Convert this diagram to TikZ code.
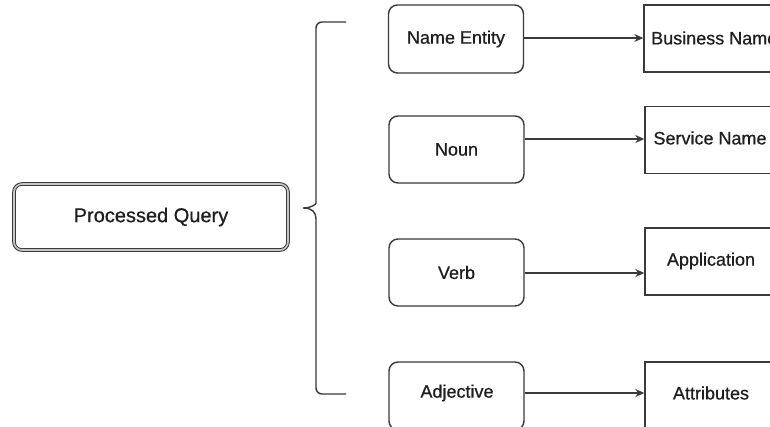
\documentclass[tikz,border=0pt]{standalone}
\usepackage{fontspec}
\setmainfont{Liberation Sans}[FakeBold=0.6]
\usetikzlibrary{arrows.meta}
\definecolor{linec}{HTML}{3A3A3A}
\definecolor{textc}{HTML}{1E1E1E}
\tikzset{
  rbox/.style={draw=linec, line width=1.4pt, rounded corners=9pt, minimum width=135pt, minimum height=68pt, inner sep=0pt, text=textc, font=\fontsize{18}{21}\selectfont\addfontfeature{FakeBold=0.6}},
  sbox/.style={draw=linec, line width=1.4pt, minimum width=160pt, minimum height=67pt, inner sep=0pt},
  lbl/.style={text=textc, font=\fontsize{18}{21}\selectfont\addfontfeature{FakeBold=0.6}, inner sep=0pt},
  pqbox/.style={draw=linec, line width=1pt, double=gray!45, double distance=1.6pt, rounded corners=8pt, minimum width=274pt, minimum height=66pt, inner sep=0pt, text=textc, font=\fontsize{20}{24}\selectfont\addfontfeature{FakeBold=0.6}},
  conn/.style={draw=linec, line width=1.4pt, -{Stealth[length=9pt,width=8pt]}},
  bracel/.style={draw=linec, line width=1.4pt}
}
\begin{document}
\begin{tikzpicture}[x=1pt,y=-1pt]
\clip (0,0) rectangle (770,427);
\fill[white] (0,0) rectangle (770,427);
% left node
\node[pqbox] (pq) at (151,217) {Processed Query};
% brace
\coordinate (bt) at (346,22);
\coordinate (bb) at (346,394);
\coordinate (tip) at (303,208);
\draw[bracel] (bt) [rounded corners=6pt] -- (316,22) -- (316,197) [sharp corners] .. controls (316,204) and (312,208) .. (tip)
  .. controls (312,208) and (316,212) .. (316,219) [rounded corners=6pt] -- (316,394) -- (bb);
% middle boxes
\node[rbox] (ne) at (456,39) {Name Entity};
\node[rbox, minimum height=67pt] (noun) at (456.5,149.5) {Noun};
\node[rbox, minimum height=67pt] (verb) at (456.5,272.5) {Verb};
\node[rbox] (adj) at (456.5,396) {};
\node[lbl] (adjt) at (457,393) {Adjective};
% right boxes
\node[sbox] (bn) at (724,38.5) {};
\node[sbox] (sn) at (725,140) {};
\node[sbox] (app) at (725,261.5) {};
\node[sbox, minimum height=70pt] (attr) at (725,397) {};
\node[lbl, anchor=west] (bnt) at (651,38) {Business Name};
\node[lbl] (snt) at (710,138) {Service Name};
\node[lbl] (appt) at (711,261) {Application};
\node[lbl] (attrt) at (711,393) {Attributes};
% connectors
\draw[conn] (ne.east |- bnt) -- (bn.west |- bnt);
\draw[conn] ([yshift=10.5pt]noun.east) -- (sn.west |- 0,139);
\draw[conn] ([yshift=-0.5pt]verb.east) -- ([yshift=-0.5pt]app.west |- verb.east);
\draw[conn] (adj.east |- adjt) -- (attr.west |- adjt);
\end{tikzpicture}
\end{document}
